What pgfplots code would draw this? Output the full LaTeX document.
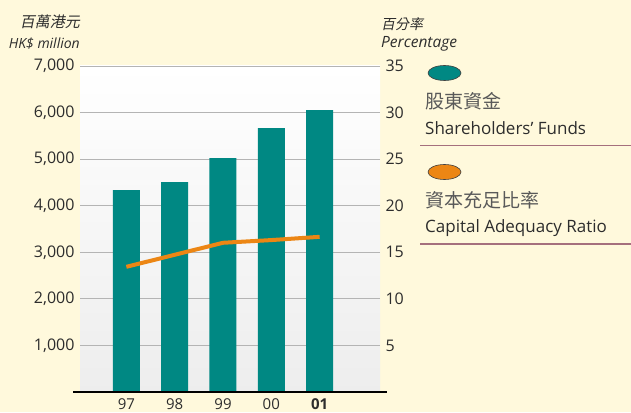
\documentclass[border=0pt]{standalone}
\usepackage{pgfplots}
\pgfplotsset{compat=1.18}
\usepackage{fontspec}
\setmainfont{Open Sans}
\newfontfamily\cjk{Noto Sans CJK TC}
\newfontfamily\cjksl{Noto Sans CJK TC}[FakeSlant=0.2]
\definecolor{cream}{RGB}{255,249,220}
\definecolor{tealbar}{RGB}{0,136,131}
\definecolor{orangeline}{RGB}{236,134,20}
\definecolor{gridgray}{RGB}{180,180,180}
\definecolor{rule}{RGB}{165,112,125}
\definecolor{txt}{RGB}{45,45,45}
\begin{document}
\begin{tikzpicture}
\fill[cream] (0pt,0pt) rectangle (631pt,412pt);
\begin{axis}[
    at={(80pt,20pt)}, anchor=south west,
    scale only axis, width=300pt, height=326pt,
    xmin=-0.96, xmax=5.25, ymin=0, ymax=7000,
    axis background/.style={top color=white, bottom color=black!7},
    axis line style={draw=none},
    ymajorgrids, grid style={gridgray, line width=0.8pt},
    major tick length=0pt,
    xtick={0,1,2,3,4}, xticklabels={97,98,99,00,\textbf{01}},
    ytick={1000,2000,3000,4000,5000,6000,7000},
    /pgf/number format/.cd, 1000 sep={,}, assume math mode=true,
    /pgfplots/.cd,
    tick label style={font=\fontsize{16}{18}\selectfont, text=txt},
    yticklabel style={anchor=east, xshift=-2pt},
    xticklabel style={font=\fontsize{15}{16}\selectfont, anchor=north, inner sep=0pt, yshift=-6.5pt},
    ybar, bar width=27pt,
]
\addplot[fill=tealbar, draw=none] coordinates {
  (0,4335) (1,4506) (2,5021) (3,5665) (4,6052)};
\end{axis}
\begin{axis}[
    at={(80pt,20pt)}, anchor=south west,
    scale only axis, width=300pt, height=326pt,
    xmin=-0.96, xmax=5.25, ymin=0, ymax=35,
    axis line style={draw=none},
    hide x axis, axis y line*=right,
    major tick length=0pt,
    ytick={5,10,15,20,25,30,35},
    /pgf/number format/assume math mode=true,
    tick label style={font=\fontsize{16}{18}\selectfont, text=txt},
    yticklabel style={anchor=west, xshift=2pt},
]
\addplot[orangeline, line width=4pt, line join=round] coordinates {
  (0,13.44) (1,14.73) (2,16.02) (3,16.31) (4,16.66)};
\end{axis}
% bottom rule
\draw[black, line width=1.2pt] (73pt,20pt) -- (387pt,20pt);
% axis titles
\node[anchor=east, inner sep=0, text=txt, font=\cjksl\fontsize{15}{17}\selectfont] at (80pt,390pt) {百萬港元};
\node[anchor=east, inner sep=0, text=txt, font=\itshape\fontsize{14}{16}\selectfont] at (80pt,368pt) {HK\$ million};
\node[anchor=west, inner sep=0, text=txt, font=\cjksl\fontsize{14}{16}\selectfont] at (381pt,388pt) {百分率};
\node[anchor=west, inner sep=0, text=txt, font=\itshape\fontsize{15.5}{17}\selectfont] at (381pt,368pt) {Percentage};
% legend
\draw[fill=tealbar, draw=black!75, line width=0.6pt] (444.5pt,339pt) ellipse (16.5pt and 7.5pt);
\node[anchor=west, inner sep=0, text=black!65, font=\cjk\fontsize{19}{21}\selectfont] at (425pt,311pt) {股東資金};
\node[anchor=west, inner sep=0, text=txt, font=\fontsize{17}{19}\selectfont] at (425pt,284pt) {Shareholders' Funds};
\draw[rule, line width=1.2pt] (420pt,266.5pt) -- (631pt,266.5pt);
\draw[fill=orangeline, draw=black!75, line width=0.6pt] (444.5pt,240pt) ellipse (16.5pt and 7.5pt);
\node[anchor=west, inner sep=0, text=black!65, font=\cjk\fontsize{19}{21}\selectfont] at (425pt,212pt) {資本充足比率};
\node[anchor=west, inner sep=0, text=txt, font=\fontsize{17}{19}\selectfont] at (425pt,184pt) {Capital Adequacy Ratio};
\draw[rule, line width=1.2pt] (420pt,168pt) -- (631pt,168pt);
\pgfresetboundingbox
\useasboundingbox (0pt,0pt) rectangle (631pt,412pt);
\end{tikzpicture}
\end{document}
